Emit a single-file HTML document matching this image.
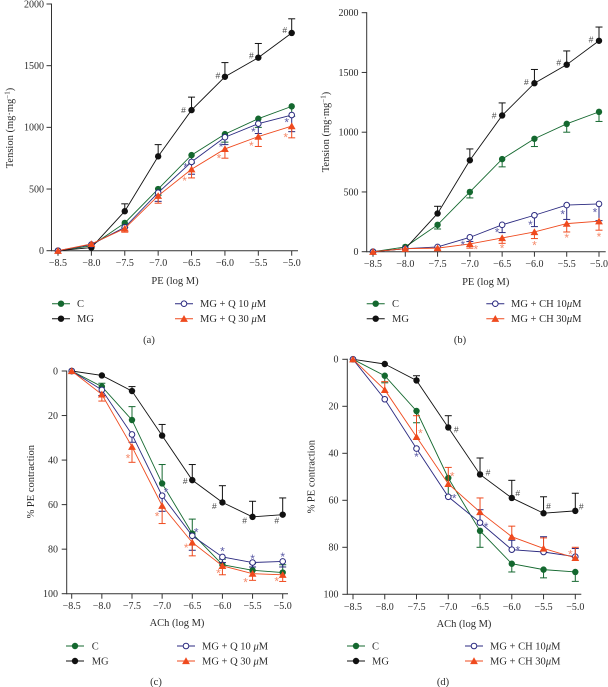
<!DOCTYPE html>
<html>
<head>
<meta charset="utf-8">
<style>
html,body{margin:0;padding:0;background:#fff;width:608px;height:687px;overflow:hidden}
svg{display:block;filter:blur(0.3px)}
text{font-family:"Liberation Serif",serif;fill:#2b2b2b;font-size:10px}
</style>
</head>
<body>
<svg id="figure" width="608" height="687" viewBox="0 0 608 687" xmlns="http://www.w3.org/2000/svg"></svg>
<script>
const doses = [-8.5, -8, -7.5, -7, -6.5, -6, -5.5, -5];
const doseLabels = ['−8.5', '−8.0', '−7.5', '−7.0', '−6.5', '−6.0', '−5.5', '−5.0'];
const tensionTicks = [0, 500, 1000, 1500, 2000];
const relaxTicks = [0, 20, 40, 60, 80, 100];

const tensionC = [0, 40, 225, 500, 775, 945, 1070, 1170];
const tensionCErr = [null, null, 190, 450, 710, 880, 1000, 1090];
const tensionMG = [0, 25, 320, 765, 1140, 1410, 1565, 1765];
const tensionMGErr = [null, null, 380, 860, 1245, 1525, 1680, 1880];
const tensionQ10 = [0, 50, 190, 470, 720, 920, 1030, 1100];
const tensionQ10Err = [null, null, 160, 400, 620, 860, 950, 965];
const tensionQ30 = [0, 55, 180, 445, 660, 825, 925, 1010];
const tensionQ30Err = [null, null, 150, 385, 590, 750, 845, 915];
const tensionCH10 = [0, 25, 40, 120, 225, 305, 390, 400];
const tensionCH10Err = [null, null, null, 85, 160, 210, 270, 260];
const tensionCH30 = [0, 25, 30, 65, 115, 165, 235, 255];
const tensionCH30Err = [null, null, 15, 30, 70, 110, 165, 180];

const relaxCUp = [0, 7, 22, 50.5, 73, 87, 89.5, 90.5];
const relaxCUpErr = [null, 5.5, 16, 42, 66.5, 84.5, 86.5, 87];
const relaxCDownErr = [null, 10, 27, 58, 80, 90.5, 93, 94.5];
const relaxMG = [0, 2, 9, 29, 49, 59, 65.5, 64.5];
const relaxMGErr = [null, null, 7, 24, 42, 51.5, 58.5, 57];
const relaxQ10 = [0, 8.5, 28.5, 56, 74, 83.5, 86, 85.5];
const relaxQ10Err = [null, 11, 32, 63, 80.5, 86, 88, 88];
const relaxQ30 = [0, 10.5, 34, 60.5, 77, 87.5, 91, 91.5];
const relaxQ30Err = [null, 13.5, 41, 68.5, 83, 91.5, 94, 94.5];
const relaxCH10 = [0, 17, 38, 58.5, 69.5, 81, 82, 84];
const relaxCH10Err = [null, null, null, null, 64, 77, 75.5, 80.5];
const relaxCH30 = [0, 13, 33, 53, 65, 75.5, 80.5, 84.5];
const relaxCH30Err = [null, 9.5, 24, 46, 59, 71, 76, 80];

const seriesStyles = [
  {key: 'c', color: '#14682f', marker: 'dot'},
  {key: 'mg', color: '#111111', marker: 'dot'},
  {key: 'low-dose', color: '#2b2a80', marker: 'ring'},
  {key: 'high-dose', color: '#ef4a1e', marker: 'tri'}
];
const noteColors = {0: '#333333', 1: '#444444', 2: '#5d5ca6', 3: '#f58b6c'};

const panels = [
  {id: 'a', x0: 58, x1: 291.7, axisX: 51.5, axisEnd: 298, y0: 250.7, yMax: 4, vMax: 2000, ticks: tensionTicks,
   tickBase: 266, tickRight: 44, xTitle: 'PE (log M)', xTitleX: 175, xTitleY: 284, yKind: 'tension', yTitleX: 13, yTitleC: 128,
   legendY: [303.7, 318.7], legL: 52, legR: 175, labelL: 77, labelR: 200, low: 'MG + Q 10 ', high: 'MG + Q 30 ', capX: 149, capY: 343,
   values: [tensionC, tensionMG, tensionQ10, tensionQ30], errs: [tensionCErr, tensionMGErr, tensionQ10Err, tensionQ30Err],
   notes: [[1,4,-8,0,'#'],[1,5,-7,-1,'#'],[1,6,-7,-2,'#'],[1,7,-7,-3,'#'],
           [2,4,-6,3,'*'],[2,5,-4,7,'*'],[2,6,-5,6,'*'],[2,7,-5,5,'*'],
           [3,4,-7,9,'*'],[3,5,-6,7,'*'],[3,6,-7,7,'*'],[3,7,-6,9,'*']]},
  {id: 'b', x0: 373, x1: 599, axisX: 366.7, axisEnd: 605.7, y0: 251.7, yMax: 12.7, vMax: 2000, ticks: tensionTicks,
   tickBase: 267, tickRight: 358.5, xTitle: 'PE (log M)', xTitleX: 485.7, xTitleY: 285, yKind: 'tension', yTitleX: 329, yTitleC: 132,
   legendY: [303.7, 318.7], legL: 366.7, legR: 486.3, labelL: 392, labelR: 511, low: 'MG + CH 10', high: 'MG + CH 30', capX: 460, capY: 343,
   values: [tensionC, tensionMG, tensionCH10, tensionCH30], errs: [tensionCErr, tensionMGErr, tensionCH10Err, tensionCH30Err],
   notes: [[1,4,-8,0,'#'],[1,5,-8,-1,'#'],[1,6,-8,-2,'#'],[1,7,-8,-1,'#'],
           [2,3,-7,5,'*'],[2,4,-5,5,'*'],[2,5,-4,7,'*'],[2,6,-4,7,'*'],[2,7,-4,6,'*'],
           [3,3,6,3,'*'],[3,4,0,8,'*'],[3,5,0,11,'*'],[3,6,0,12,'*'],[3,7,0,13,'*']]},
  {id: 'c', x0: 71.7, x1: 282.7, axisX: 66.7, axisEnd: 288, y0: 371, yMax: 593.7, vMax: 100, ticks: relaxTicks,
   tickBase: 609, tickRight: 58, xTitle: 'ACh (log M)', xTitleX: 177, xTitleY: 626, yKind: 'relax', yTitleX: 34, yTitleC: 481.7,
   legendY: [646, 661], legL: 66, legR: 177, labelL: 91.7, labelR: 202, low: 'MG + Q 10 ', high: 'MG + Q 30 ', capX: 156, capY: 685,
   values: [relaxCUp, relaxMG, relaxQ10, relaxQ30], errs: [relaxCUpErr, relaxMGErr, relaxQ10Err, relaxQ30Err],
   notes: [[1,4,-7,1,'#'],[1,5,-8,4,'#'],[1,6,-8,4,'#'],[1,7,-6,6,'#'],
           [2,3,4,-6,'*'],[2,4,4,-6,'*'],[2,5,0,-8,'*'],[2,6,0,-6,'*'],[2,7,0,-7,'*'],
           [3,2,-4,9,'*'],[3,3,-5,8,'*'],[3,4,-6,3,'*'],[3,5,-4,5,'*'],[3,6,-7,6,'*'],[3,7,-6,4,'*']]},
  {id: 'd', x0: 353, x1: 575.3, axisX: 347.3, axisEnd: 581.3, y0: 359.3, yMax: 594.3, vMax: 100, ticks: relaxTicks,
   tickBase: 610, tickRight: 338.5, xTitle: 'ACh (log M)', xTitleX: 464, xTitleY: 627, yKind: 'relax', yTitleX: 314.5, yTitleC: 476.7,
   legendY: [646, 661], legL: 347, legR: 465, labelL: 372, labelR: 490, low: 'MG + CH 10', high: 'MG + CH 30', capX: 443, capY: 685,
   values: [relaxCUp, relaxMG, relaxCH10, relaxCH30], errs: [relaxCDownErr, relaxMGErr, relaxCH10Err, relaxCH30Err],
   notes: [[1,3,8,2,'#'],[1,4,8,-2,'#'],[1,5,6,-5,'#'],[1,6,5,-7,'#'],[1,7,6,-4,'#'],
           [2,2,0,6,'*'],[2,3,6,-1,'*'],[2,4,6,2,'*'],[2,5,6,-2,'*'],
           [3,2,4,-6,'*'],[3,3,4,-10,'*'],[3,7,-5,-6,'*']]}
];

const SVGNS = 'http://www.w3.org/2000/svg';
const root = document.getElementById('figure');

function make(tag, attrs, parent) {
  const node = document.createElementNS(SVGNS, tag);
  for (const k in attrs) node.setAttribute(k, attrs[k]);
  parent.appendChild(node);
  return node;
}

function drawMarker(parent, style, cx, cy, label) {
  let el;
  if (style.marker === 'tri') {
    const r = 3.9;
    const pts = (cx - r) + ',' + (cy + r * 0.8) + ' ' + (cx + r) + ',' + (cy + r * 0.8) + ' ' + cx + ',' + (cy - r * 0.95);
    el = make('polygon', {points: pts, fill: style.color}, parent);
  } else if (style.marker === 'ring') {
    el = make('circle', {cx: cx, cy: cy, r: 2.8, fill: '#fff', stroke: style.color, 'stroke-width': 1}, parent);
  } else {
    el = make('circle', {cx: cx, cy: cy, r: 3.2, fill: style.color}, parent);
  }
  
  
  return el;
}

panels.forEach(function (p) {
  const group = make('g', {}, root);
  
  

  const xScale = function (d) { return p.x0 + (d - doses[0]) / (doses[doses.length - 1] - doses[0]) * (p.x1 - p.x0); };
  const yScale = function (v) { return p.y0 + v / p.vMax * (p.yMax - p.y0); };
  const axisY = p.yKind === 'tension' ? p.y0 : p.yMax;
  const topY = p.yKind === 'tension' ? p.yMax : p.y0;

  const yAxis = make('line', {x1: p.axisX, x2: p.axisX, y1: topY - 0.5, y2: axisY + 0.5, stroke: '#333', 'stroke-width': 1}, group);
  
  

  const xAxis = make('line', {x1: p.axisX, x2: p.axisEnd, y1: axisY, y2: axisY, stroke: '#333', 'stroke-width': 1}, group);
  
  

  p.ticks.forEach(function (t) {
    const tick = make('line', {x1: p.axisX - 5, x2: p.axisX, y1: yScale(t), y2: yScale(t), stroke: '#333', 'stroke-width': 1}, group);
    
    
    const label = make('text', {x: p.tickRight, y: yScale(t) + 3.3, 'text-anchor': 'end'}, group);
    label.textContent = t;
    
    
  });

  doses.forEach(function (d, i) {
    const tick = make('line', {x1: xScale(d), x2: xScale(d), y1: axisY, y2: axisY + 5, stroke: '#333', 'stroke-width': 1}, group);
    
    
    const label = make('text', {x: xScale(d), y: p.tickBase, 'text-anchor': 'middle'}, group);
    label.textContent = doseLabels[i];
    
    
  });

  const xt = make('text', {x: p.xTitleX, y: p.xTitleY, 'text-anchor': 'middle'}, group);
  xt.textContent = p.xTitle;
  xt.style.fontSize = '10.5px';
  
  

  const yt = make('text', {x: 0, y: 0, 'text-anchor': 'middle', transform: 'translate(' + p.yTitleX + ' ' + p.yTitleC + ') rotate(-90)'}, group);
  yt.style.fontSize = '10.5px';
  if (p.yKind === 'tension') {
    yt.appendChild(document.createTextNode('Tension (mg·mg'));
    const sup = make('tspan', {dy: -3.5}, yt);
    sup.style.fontSize = '7px';
    sup.textContent = '−1';
    const closing = make('tspan', {dy: 3.5}, yt);
    closing.textContent = ')';
  } else {
    yt.textContent = '% PE contraction';
  }
  
  

  seriesStyles.forEach(function (style, s) {
    const values = p.values[s];
    const errs = p.errs[s];
    const sg = make('g', {}, group);
    
    

    values.forEach(function (v, i) {
      if (errs[i] === null) return;
      const x = xScale(doses[i]);
      const stem = make('line', {x1: x, x2: x, y1: yScale(v), y2: yScale(errs[i]), stroke: style.color, 'stroke-width': 1}, sg);
      
      
      const cap = make('line', {x1: x - 3.5, x2: x + 3.5, y1: yScale(errs[i]), y2: yScale(errs[i]), stroke: style.color, 'stroke-width': 1}, sg);
      
      
    });

    const pts = values.map(function (v, i) { return xScale(doses[i]) + ',' + yScale(v); }).join(' ');
    const line = make('polyline', {points: pts, fill: 'none', stroke: style.color, 'stroke-width': 0.9}, sg);
    
    

    values.forEach(function (v, i) {
      drawMarker(sg, style, xScale(doses[i]), yScale(v), 'point-' + style.key);
    });
  });

  p.notes.forEach(function (n) {
    const x = xScale(doses[n[1]]) + n[2];
    const y = yScale(p.values[n[0]][n[1]]) + n[3];
    const isHash = n[4] === '#';
    const note = make('text', {x: x, y: y + (isHash ? 2.8 : 6.6), 'text-anchor': 'middle'}, group);
    note.style.fontSize = isHash ? '8.5px' : '12px';
    note.style.fontFamily = '"Liberation Sans", sans-serif';
    note.style.fill = noteColors[n[0]];
    note.textContent = n[4];
    
    
  });

  const legendRows = [
    {style: seriesStyles[0], lx: p.legL, tx: p.labelL, y: p.legendY[0], text: 'C'},
    {style: seriesStyles[1], lx: p.legL, tx: p.labelL, y: p.legendY[1], text: 'MG'},
    {style: seriesStyles[2], lx: p.legR, tx: p.labelR, y: p.legendY[0], text: p.low},
    {style: seriesStyles[3], lx: p.legR, tx: p.labelR, y: p.legendY[1], text: p.high}
  ];
  legendRows.forEach(function (row) {
    const entry = make('g', {}, group);
    
    
    const sw = make('line', {x1: row.lx, x2: row.lx + 18, y1: row.y, y2: row.y, stroke: row.style.color, 'stroke-width': 1}, entry);
    
    
    drawMarker(entry, row.style, row.lx + 9, row.y, 'legend-marker');
    const t = make('text', {x: row.tx, y: row.y + 3.5}, entry);
    t.style.fontSize = '10.5px';
    t.textContent = row.text;
    if (row.text.indexOf('MG +') === 0) {
      const mu = make('tspan', {}, t);
      mu.style.fontStyle = 'italic';
      mu.textContent = 'μ';
      const unit = make('tspan', {}, t);
      unit.textContent = 'M';
    }
    
    
  });

  const caption = make('text', {x: p.capX, y: p.capY, 'text-anchor': 'middle'}, group);
  caption.style.fontSize = '10.5px';
  caption.textContent = '(' + p.id + ')';
  
  
});
</script>
</body>
</html>
